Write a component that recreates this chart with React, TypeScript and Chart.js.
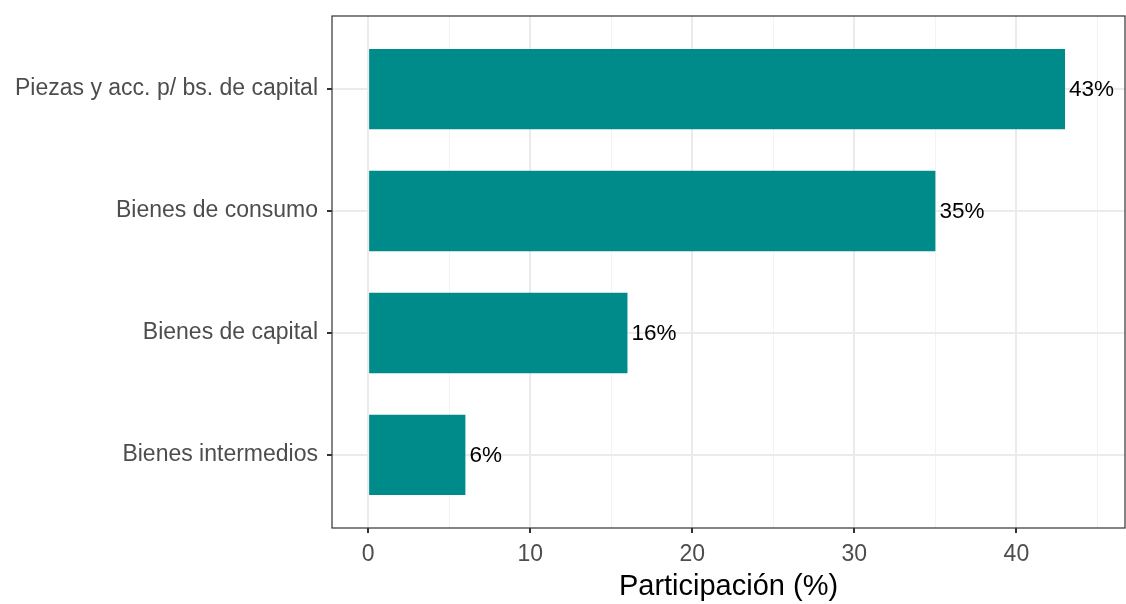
import React, { useEffect, useRef } from "react";
import { Chart, registerables } from "chart.js";

Chart.register(...registerables);

const categories = [
  "Bienes intermedios",
  "Bienes de capital",
  "Bienes de consumo",
  "Piezas y acc. p/ bs. de capital",
];
const values = [6, 16, 35, 43];
const valueLabels = ["6%", "16%", "35%", "43%"];
const xTicks = [0, 5, 10, 15, 20, 25, 30, 35, 40, 45];
const xTitle = "Participación (%)";

const BAR = "#008B8B";
const FONT = "'Liberation Sans', Arial, sans-serif";

export default function App() {
  const ref = useRef<HTMLCanvasElement | null>(null);

  useEffect(() => {
    const canvas = ref.current;
    if (!canvas) return;

    const labelPlugin = {
      id: "valueLabels",
      afterDatasetsDraw(chart: any) {
        const ctx = chart.ctx;
        const meta = chart.getDatasetMeta(0);
        ctx.save();
        ctx.font = `22.5px ${FONT}`;
        ctx.fillStyle = "#000000";
        ctx.textAlign = "left";
        ctx.textBaseline = "middle";
        meta.data.forEach((bar: any, i: number) => {
          ctx.fillText(valueLabels[i], bar.x + 4, bar.y + 1);
        });
        ctx.restore();
      },
    };

    const borderPlugin = {
      id: "panelBorder",
      afterDraw(chart: any) {
        const { ctx, chartArea } = chart;
        ctx.save();
        ctx.strokeStyle = "#333333";
        ctx.lineWidth = 1.2;
        ctx.strokeRect(
          chartArea.left,
          chartArea.top,
          chartArea.right - chartArea.left,
          chartArea.bottom - chartArea.top
        );
        ctx.restore();
      },
    };

    const chart = new Chart(canvas, {
      type: "bar",
      data: {
        datasets: [
          {
            data: values.map((v, i) => ({ x: v, y: i + 1 })),
            backgroundColor: BAR,
            borderWidth: 0,
            barPercentage: 0.66,
            categoryPercentage: 1,
          },
        ],
      },
      options: {
        indexAxis: "y",
        animation: false,
        responsive: false,
        maintainAspectRatio: false,
        layout: { padding: { top: 16, right: 1, left: 0, bottom: 0 } },
        plugins: {
          legend: { display: false },
          tooltip: { enabled: false },
        },
        scales: {
          x: {
            type: "linear",
            min: -2.23,
            max: 46.7,
            afterBuildTicks: (scale: any) => {
              scale.ticks = xTicks.map((v) => ({ value: v }));
            },
            afterFit: (scale: any) => {
              scale.height = 76;
              scale.paddingLeft = 0;
              scale.paddingRight = 0;
            },
            ticks: {
              callback: (v: any) => (Number(v) % 10 === 0 ? String(v) : ""),
              font: { family: FONT, size: 23 },
              color: "#4D4D4D",
              padding: 8,
              maxRotation: 0,
              autoSkip: false,
            },
            grid: {
              color: (c: any) =>
                c.tick && c.tick.value % 10 === 0 ? "#EBEBEB" : "#F3F3F3",
              lineWidth: (c: any) =>
                c.tick && c.tick.value % 10 === 0 ? 2 : 1,
              tickColor: (c: any) =>
                c.tick && c.tick.value % 10 === 0 ? "#333333" : "rgba(0,0,0,0)",
              tickLength: 5,
              tickWidth: 2,
              drawOnChartArea: true,
            },
            border: { display: false },
            title: {
              display: true,
              text: xTitle,
              font: { family: FONT, size: 29 },
              color: "#000000",
              padding: { top: 0, bottom: 0 },
            },
          },
          y: {
            type: "linear",
            min: 0.4,
            max: 4.6,
            offset: false,
            afterBuildTicks: (scale: any) => {
              scale.ticks = categories.map((_, i) => ({ value: i + 1 }));
            },
            afterFit: (scale: any) => {
              scale.width = 332;
              scale.paddingTop = 0;
              scale.paddingBottom = 0;
            },
            ticks: {
              callback: (v: any) => categories[Number(v) - 1] ?? "",
              font: { family: FONT, size: 23 },
              color: "#4D4D4D",
              padding: 9,
              autoSkip: false,
            },
            grid: {
              offset: false,
              color: "#EBEBEB",
              lineWidth: 2,
              tickColor: "#333333",
              tickLength: 5,
              tickWidth: 2,
            },
            border: { display: false },
          },
        },
      },
      plugins: [labelPlugin, borderPlugin],
    } as any);

    return () => chart.destroy();
  }, []);

  return (
    <div style={{ position: "fixed", left: 0, top: 0, width: 1126, height: 604, background: "#fff" }}>
      <canvas ref={ref} width={1126} height={604} style={{ width: 1126, height: 604 }} />
    </div>
  );
}
